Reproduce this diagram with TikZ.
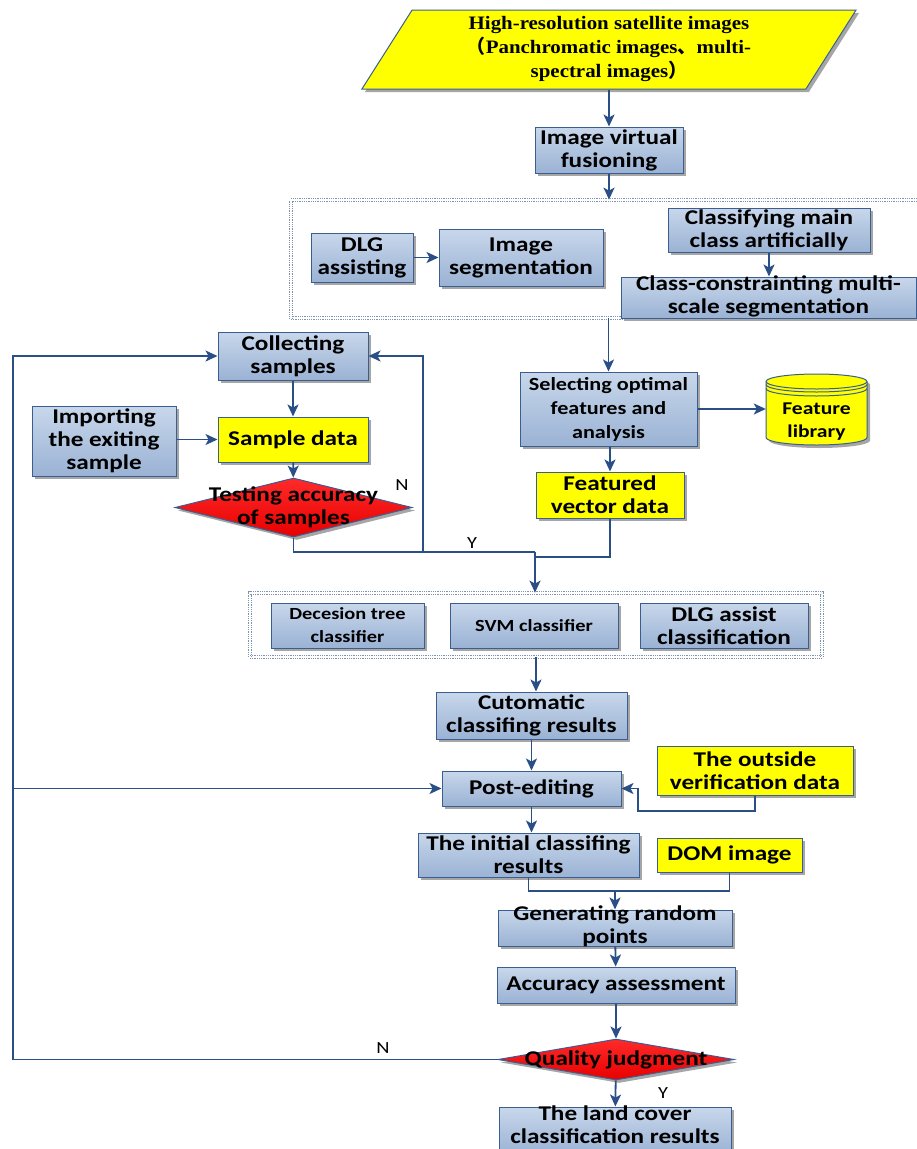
\documentclass[tikz,border=0pt]{standalone}
\usepackage{fontspec}
\setmainfont{Carlito}[FakeStretch=1.2]
\newfontfamily\timesb{Liberation Serif}[FakeStretch=1.1]
\newfontfamily\cjk{Noto Sans CJK SC}
\usetikzlibrary{shapes.geometric,arrows.meta,shadows,calc}
\definecolor{fcTop}{HTML}{C8D7EB}
\definecolor{fcBot}{HTML}{9AB2D4}
\definecolor{fcEdge}{HTML}{3B5E91}
\definecolor{fcArrow}{HTML}{2A4F87}
\definecolor{fcYel}{HTML}{FFFF00}
\definecolor{fcRedT}{HTML}{FF2A2A}
\definecolor{fcRedB}{HTML}{E80000}
\definecolor{fcDot}{HTML}{7F93B0}
\definecolor{fcShadow}{HTML}{A6A6A6}
\newcommand\bigtxt{\fontsize{21}{23}\selectfont\bfseries}
\newcommand\smalltxt{\fontsize{17}{23}\selectfont\bfseries}
\newcommand\sertxt{\timesb\fontsize{19}{24}\selectfont\bfseries}

\begin{document}
\begin{tikzpicture}[x=1pt,y=-1pt,
  shd/.style={drop shadow={shadow xshift=3pt,shadow yshift=-3pt,fill=fcShadow,opacity=1}},
  pr/.style={draw=fcEdge,line width=1pt,top color=fcTop,bottom color=fcBot,shd,
             align=center,inner sep=0pt,font=\bigtxt},
  dat/.style={pr,top color=fcYel,bottom color=fcYel},
  dec/.style={diamond,draw=fcEdge,line width=1pt,top color=fcRedT,bottom color=fcRedB,
              shd,inner sep=0pt},
  grp/.style={draw=fcDot,densely dotted,double,double distance=2pt,line width=0.8pt},
  a/.style={-{Stealth[length=12pt,width=11pt,inset=3pt]},fcArrow,line width=1.8pt},
  ln/.style={fcArrow,line width=1.8pt},
  yn/.style={font=\fontsize{17}{20}\selectfont,inner sep=0pt}]
\useasboundingbox (0,0) rectangle (916,1149);

% dotted groups
\node[grp,minimum width=640pt,minimum height=118pt] (box1) at (611,259) {};
\node[grp,minimum width=572pt,minimum height=64pt] (box2) at (536,625) {};

% input
\node[trapezium,trapezium left angle=61,trapezium right angle=119,trapezium stretches=true,
  minimum width=496pt,minimum height=79pt,draw=fcEdge,line width=1pt,fill=fcYel,shd,
  align=center,inner sep=0pt,font=\sertxt] (src) at (609,49.5)
  {High-resolution satellite images\\{\cjk （}Panchromatic images{\cjk 、}multi-\\spectral images{\cjk ）}};
\node[pr,minimum width=148pt,minimum height=46pt] (fuse) at (609,150) {Image virtual\\fusioning};

% segmentation
\node[pr,minimum width=102pt,minimum height=49pt] (dlg) at (362,257.5) {DLG\\assisting};
\node[pr,minimum width=164pt,minimum height=57pt] (seg) at (521,257.5) {Image\\segmentation};
\node[pr,minimum width=202pt,minimum height=44pt] (mainc) at (769,230) {Classifying main\\class artificially};
\node[pr,minimum width=295pt,minimum height=41pt,text height=36pt,text depth=5pt] (multi) at (768.5,297.5)
  {Class-constrainting multi-\\scale segmentation};

% features
\node[pr,minimum width=177pt,minimum height=74pt,font=\sertxt,font=\fontsize{18.5}{24}\selectfont\bfseries]
  (sel) at (608.5,409) {Selecting optimal\\features and\\analysis};
\begin{scope}[shift={(3,3)}]
\fill[fcShadow] (766,381.5) -- (766,437.5) arc[start angle=180,end angle=360,x radius=50.5pt,y radius=7.5pt]
  -- (867,381.5) arc[start angle=0,end angle=180,x radius=50.5pt,y radius=7.5pt] -- cycle;
\end{scope}
\draw[fcEdge,line width=1pt,fill=fcYel] (766,381.5) -- (766,437.5)
  arc[start angle=180,end angle=360,x radius=50.5pt,y radius=7.5pt]
  -- (867,381.5) arc[start angle=0,end angle=180,x radius=50.5pt,y radius=7.5pt] -- cycle;
\draw[fcEdge,line width=1pt] (766,381.5) arc[start angle=180,end angle=360,x radius=50.5pt,y radius=7.5pt];
\draw[fcEdge,line width=1pt] (766,384.5) arc[start angle=180,end angle=360,x radius=50.5pt,y radius=7.5pt];
\draw[fcEdge,line width=1pt] (766,388.5) arc[start angle=180,end angle=360,x radius=50.5pt,y radius=7.5pt];
\node[font=\fontsize{18}{23}\selectfont\bfseries,align=center,inner sep=0pt,
  minimum width=101pt,minimum height=50pt] (lib) at (816.5,422) {Feature\\library};
\node[dat,minimum width=148pt,minimum height=46pt] (feat) at (610,495) {Featured\\vector data};

% samples
\node[pr,minimum width=150pt,minimum height=48pt] (coll) at (293,356) {Collecting\\samples};
\node[dat,minimum width=150pt,minimum height=45pt] (samp) at (293,439.5) {Sample data};
\node[pr,minimum width=144pt,minimum height=70pt] (imp) at (104,441) {Importing\\the exiting\\sample};
\node[dec,minimum width=237pt,minimum height=59pt,
  label={[font=\bigtxt,align=center]center:Testing accuracy\\of samples}] (test) at (293.5,507.5) {};

% classifiers
\node[pr,minimum width=153pt,minimum height=45pt,font=\smalltxt] (dt) at (347.5,625.5) {Decesion tree\\classifier};
\node[pr,minimum width=168pt,minimum height=45pt,font=\smalltxt] (svm) at (534,625.5) {SVM classifier};
\node[pr,minimum width=168pt,minimum height=45pt] (dlga) at (724,625.5) {DLG assist\\classification};
\node[pr,minimum width=191pt,minimum height=47pt] (auto) at (531.5,715.5) {Cutomatic\\classifing results};

% editing and checking
\node[pr,minimum width=179pt,minimum height=35pt] (post) at (531.5,788.5) {Post-editing};
\node[dat,minimum width=196pt,minimum height=49pt] (outv) at (755,770.5) {The outside\\verification data};
\node[pr,minimum width=221pt,minimum height=44pt] (init) at (528.5,855) {The initial classifing\\results};
\node[dat,minimum width=145pt,minimum height=34pt] (dom) at (729.5,855) {DOM image};
\node[pr,minimum width=234pt,minimum height=36pt,text height=33pt,text depth=3pt] (gen) at (615,928)
  {Generating random\\points};
\node[pr,minimum width=238pt,minimum height=36pt] (acc) at (616,985) {Accuracy assessment};
\node[dec,minimum width=236pt,minimum height=41pt,
  label={[font=\bigtxt,align=center]center:Quality judgment}] (qual) at (616,1059.5) {};
\node[pr,minimum width=232pt,minimum height=48pt,text height=36pt,text depth=12pt] (land) at (615,1131)
  {The land cover\\classification results};

% junctions
\coordinate (jy) at (535,552);
\coordinate (jf) at (535,557);
\coordinate (jn) at (423,552);
\coordinate (ov) at (638,811);
\coordinate (jg) at (615,891);
\coordinate (lb) at (13,1059.5);

% connectors
\draw[a] (src) -- (fuse);
\draw[a] (fuse) -- (fuse |- box1.north);
\draw[a] (dlg) -- (seg);
\draw[a] (mainc.south) -- (mainc.south |- multi.north);
\draw[a] (box1.south -| sel) -- (sel);
\draw[a] (sel) -- (sel -| lib.west);
\draw[a] (sel.south -| feat) -- (feat);
\draw[a] (coll) -- (samp);
\draw[a] (imp.east |- samp) -- (samp);
\draw[a] (samp) -- (test);
\draw[ln] (test.south) |- (jy);
\draw[ln] (feat.south) |- (jf);
\draw[a] (jn) |- (coll.east);
\draw[a] (jy) -- (jy |- box2.north);
\node[yn] (n1) at (402,485) {N};
\node[yn] (y1) at (472,543) {Y};
\draw[a] (box2.south) -- (box2.south |- auto.north);
\draw[a] (auto) -- (post);
\draw[a] (outv.south) |- (ov) |- (post.east);
\draw[a] (post.south) -- (post.south |- init.north);
\draw[ln] (init.south) |- (jg);
\draw[ln] (dom.south) |- (jg);
\draw[a] (jg) -- (jg |- gen.north);
\draw[a] (gen) -- (acc);
\draw[a] (acc) -- (qual);
\draw[a] (qual) -- (land);
\node[yn] (y2) at (663,1093) {Y};
\draw[ln] (qual.west) -- (lb);
\draw[a] (lb) |- (coll.west);
\draw[a] (lb |- post) -- (post.west);
\node[yn] (n2) at (383,1048) {N};
\end{tikzpicture}
\end{document}
